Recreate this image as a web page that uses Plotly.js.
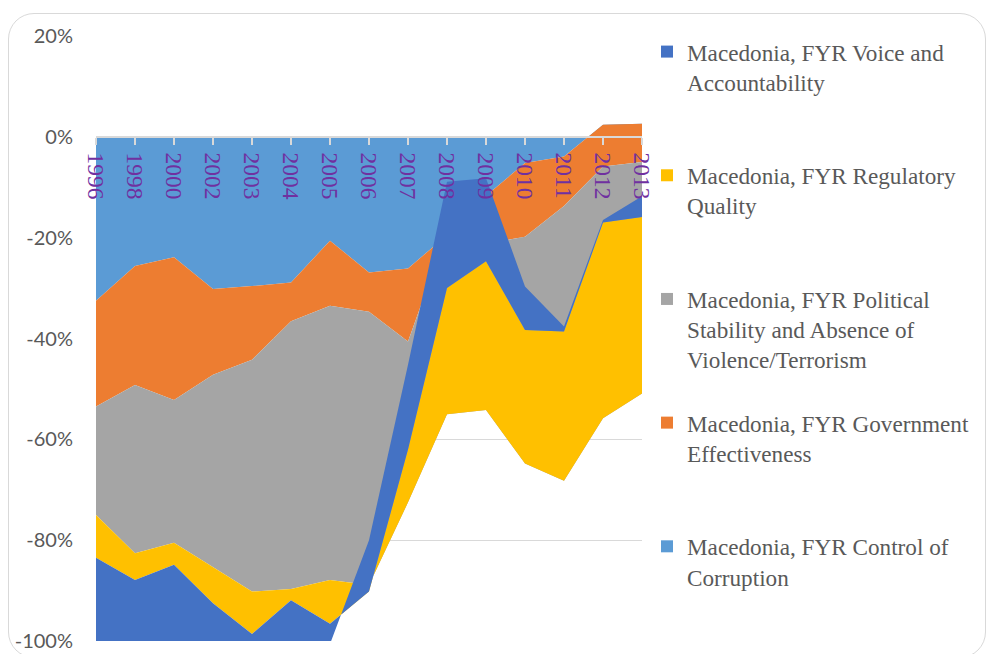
<!DOCTYPE html>
<html><head><meta charset="utf-8">
<script src="https://cdn.plot.ly/plotly-3.0.1.min.js"></script>
<style>
html,body{margin:0;padding:0;overflow:hidden;background:#fff}
#chart{width:987px;height:654px}
#frame{position:absolute;left:8px;top:13px;width:978px;height:645px;box-sizing:border-box;border:1.5px solid #d9d9d9;border-radius:26px;pointer-events:none}
</style></head><body>
<div id="chart"></div><div id="frame"></div>
<script>
// Categories (years)
const years = ['1996','1998','2000','2002','2003','2004','2005','2006','2007','2008','2009','2010','2011','2012','2013'];

// Series values (percent); stacked in this order: CC, GE, PS, RQ, VA
const controlOfCorruption = [-32.5,-25.6,-23.9,-30.2,-29.6,-28.9,-20.6,-26.9,-26.1,-19.5,-11.7,-5.2,-3.9,2.4,2.6];
const governmentEffectiveness = [-21.0,-23.6,-28.3,-17.0,-14.6,-7.7,-12.9,-7.8,-14.5,0.5,-9.5,-14.6,-9.8,-8.3,-7.6];
const politicalStability = [-21.5,-33.4,-28.3,-38.1,-46.0,-53.1,-54.4,-54.2,-31.9,-36.0,-33.0,-45.0,-54.5,-49.9,-45.9];
const regulatoryQuality = [-8.5,-5.3,-4.4,-7.2,-8.4,-2.2,-8.7,-1.3,10.5,25.0,29.5,26.5,29.6,38.8,35.0];
const voiceAccountability = [-25.0,-20.0,-20.0,-15.0,-10.0,-15.0,-4.0,10.2,16.8,21.1,16.5,8.6,1.0,0.5,4.1];

// Legend labels (padded to three lines so entries are evenly spaced)
const seriesNames = {
  va: 'Macedonia, FYR Voice and<br>Accountability<br>\u00A0',
  rq: 'Macedonia, FYR Regulatory<br>Quality<br>\u00A0',
  ps: 'Macedonia, FYR Political<br>Stability and Absence of<br>Violence/Terrorism',
  ge: 'Macedonia, FYR Government<br>Effectiveness<br>\u00A0',
  cc: 'Macedonia, FYR Control of<br>Corruption<br>\u00A0'
};

// Y tick labels
const yTickVals = [-100,-80,-60,-40,-20,0,20];
const yTickText = ['-100%','-80%','-60%','-40%','-20%','0%','20%'];

const colors = {va:'#4472C4', rq:'#FFC000', ps:'#A5A5A5', ge:'#ED7D31', cc:'#5B9BD5'};

function area(key, vals){
  return {type:'scatter', mode:'lines', x:years, y:vals, stackgroup:'one',
    line:{width:0, color:colors[key]}, fillcolor:colors[key], showlegend:false,
    name:seriesNames[key].replace(/<br>\u00A0$/,'').replace(/<br>/g,' '), hoverinfo:'x+y+name'};
}
function legendItem(key, group){
  return {type:'scatter', mode:'markers', x:[null], y:[null], name:seriesNames[key],
    legendgroup:group, marker:{symbol:'square', size:12, color:colors[key]}, hoverinfo:'skip'};
}

const data = [
  area('cc', controlOfCorruption),
  area('ge', governmentEffectiveness),
  area('ps', politicalStability),
  area('rq', regulatoryQuality),
  area('va', voiceAccountability),
  legendItem('va','g1'),
  legendItem('rq','g2'),
  legendItem('ps','g3'),
  legendItem('ge','g4'),
  legendItem('cc','g5')
];

const layout = {
  width:987, height:654, autosize:false,
  margin:{l:96, r:345, t:36, b:13, pad:0},
  paper_bgcolor:'#ffffff', plot_bgcolor:'rgba(0,0,0,0)',
  showlegend:true,
  xaxis:{
    type:'category', categoryorder:'array', categoryarray:years,
    range:[0,14], anchor:'free', position:1/1.2,
    showgrid:false, zeroline:false,
    showline:true, linecolor:'#D9D9D9', linewidth:2,
    ticks:'outside', ticklen:7, tickwidth:1.5, tickcolor:'#D9D9D9',
    tickangle:90, ticklabelstandoff:3,
    tickfont:{family:'Liberation Serif, Times New Roman, serif', size:23.5, color:'#7030A0'},
    fixedrange:true
  },
  yaxis:{
    range:[-100,20], tickvals:yTickVals, ticktext:yTickText,
    showgrid:true, gridcolor:'#D9D9D9', gridwidth:1.3,
    zeroline:false, showline:false, ticks:'',
    ticklabelstandoff:22,
    tickfont:{family:'Lato, sans-serif', size:20, color:'#595959'},
    fixedrange:true
  },
  legend:{
    x:1.00916, xanchor:'left', y:1.0099, yanchor:'top', maxheight:650,
    traceorder:'grouped', tracegroupgap:30.2, valign:'top',
    bgcolor:'rgba(0,0,0,0)', borderwidth:0,
    font:{family:'Liberation Serif, Times New Roman, serif', size:23.2, color:'#595959'}
  },
  hovermode:'closest'
};

Plotly.newPlot('chart', data, layout, {displayModeBar:false});
</script>
</body></html>
